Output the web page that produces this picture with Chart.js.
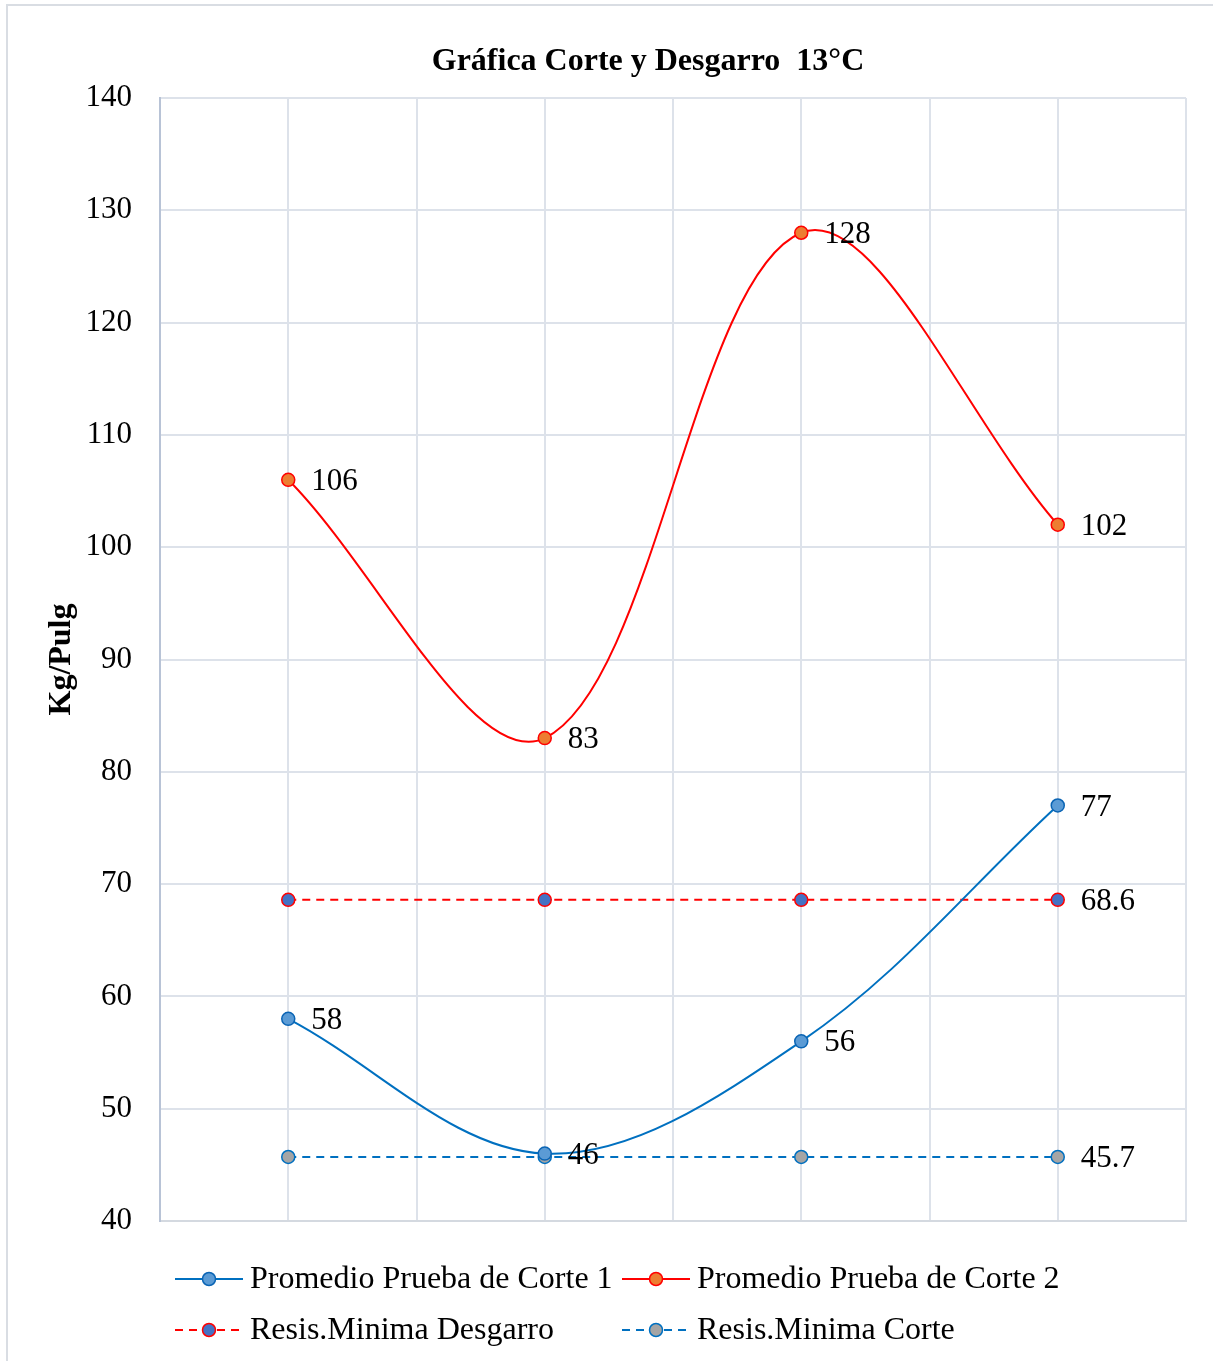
<!DOCTYPE html>
<html>
<head>
<meta charset="utf-8">
<script src="https://cdn.jsdelivr.net/npm/chart.js@4.4.1/dist/chart.umd.min.js"></script>
<style>
  html, body { margin: 0; padding: 0; background: #ffffff; }
  #wrap { width: 1213px; height: 1361px; position: relative; }
</style>
</head>
<body>
<div id="wrap"><canvas id="chart" width="1213" height="1361"></canvas></div>
<script>
// Sample positions along the horizontal axis (no labels are shown on it)
const samplePositions = [1, 2, 3, 4];

// Series values (Kg/Pulg)
const promedioCorte1 = [58, 46, 56, 77];
const promedioCorte2 = [106, 83, 128, 102];
const resisMinimaDesgarro = [68.6, 68.6, 68.6, 68.6];
const resisMinimaCorte = [45.7, 45.7, 45.7, 45.7];

const seriesNames = [
  'Promedio Prueba de Corte 1',
  'Promedio Prueba de Corte 2',
  'Resis.Minima Desgarro',
  'Resis.Minima Corte'
];

const chartTitle = 'Gráfica Corte y Desgarro  13°C';
const yAxisTitle = 'Kg/Pulg';
const yMin = 40, yMax = 140, yStep = 10;

const SERIF = '"Liberation Serif", "Times New Roman", serif';
const GRID = '#dde2ea';

const toPoints = (vals) => vals.map((v, i) => ({ x: samplePositions[i], y: v }));

// Outer frame and white background
const framePlugin = {
  id: 'frame',
  beforeDraw(chart) {
    const ctx = chart.ctx;
    ctx.save();
    ctx.fillStyle = '#ffffff';
    ctx.fillRect(0, 0, chart.width, chart.height);
    ctx.strokeStyle = '#d9dde3';
    ctx.lineWidth = 2;
    ctx.strokeRect(7, 5, chart.width + 20, chart.height + 20);
    ctx.restore();
  }
};

// Chart title
const titlePlugin = {
  id: 'titleText',
  afterDraw(chart) {
    const ctx = chart.ctx;
    ctx.save();
    ctx.font = 'bold 32px ' + SERIF;
    ctx.fillStyle = '#000000';
    ctx.textAlign = 'center';
    ctx.textBaseline = 'middle';
    ctx.fillText(chartTitle, 648, 62);
    ctx.restore();
  }
};

// Value labels to the right of the points
const valueLabelPlugin = {
  id: 'valueLabels',
  afterDatasetsDraw(chart) {
    const ctx = chart.ctx;
    ctx.save();
    ctx.font = '31px ' + SERIF;
    ctx.fillStyle = '#000000';
    ctx.textAlign = 'left';
    ctx.textBaseline = 'middle';
    chart.data.datasets.forEach((ds, di) => {
      const meta = chart.getDatasetMeta(di);
      meta.data.forEach((pt, i) => {
        if (ds.valueLabels === 'last' && i !== meta.data.length - 1) return;
        const v = ds.data[i].y;
        ctx.fillText(String(v), pt.x + 23, pt.y + 2);
      });
    });
    ctx.restore();
  }
};

// Legend with line + marker samples, two columns
const legendPlugin = {
  id: 'lineMarkerLegend',
  afterDraw(chart) {
    const ctx = chart.ctx;
    const cols = [175, 622];
    const rows = [1279, 1330];
    ctx.save();
    chart.data.datasets.forEach((ds, di) => {
      const x = cols[di % 2];
      const y = rows[Math.floor(di / 2)];
      ctx.strokeStyle = ds.borderColor;
      ctx.lineWidth = ds.borderWidth;
      ctx.setLineDash(ds.borderDash || []);
      ctx.beginPath();
      ctx.moveTo(x, y);
      ctx.lineTo(x + 68, y);
      ctx.stroke();
      ctx.setLineDash([]);
      ctx.beginPath();
      ctx.arc(x + 34, y, ds.pointRadius, 0, Math.PI * 2);
      ctx.fillStyle = ds.pointBackgroundColor;
      ctx.fill();
      ctx.lineWidth = ds.pointBorderWidth;
      ctx.strokeStyle = ds.pointBorderColor;
      ctx.stroke();
      ctx.font = '32px ' + SERIF;
      ctx.fillStyle = '#000000';
      ctx.textAlign = 'left';
      ctx.textBaseline = 'middle';
      ctx.fillText(ds.label, x + 75, y + 1);
    });
    ctx.restore();
  }
};

const ctx = document.getElementById('chart').getContext('2d');
new Chart(ctx, {
  type: 'line',
  data: {
    datasets: [
      {
        label: seriesNames[0],
        data: toPoints(promedioCorte1),
        borderColor: '#0070c0',
        borderWidth: 2,
        tension: 0.35,
        pointRadius: 6.5,
        pointBorderWidth: 1.5,
        pointBackgroundColor: '#5b9bd5',
        pointBorderColor: '#0a64b4',
        valueLabels: 'all'
      },
      {
        label: seriesNames[1],
        data: toPoints(promedioCorte2),
        borderColor: '#ff0000',
        borderWidth: 2,
        tension: 0.35,
        pointRadius: 6.5,
        pointBorderWidth: 1.5,
        pointBackgroundColor: '#ed7d31',
        pointBorderColor: '#ff0000',
        valueLabels: 'all'
      },
      {
        label: seriesNames[2],
        data: toPoints(resisMinimaDesgarro),
        borderColor: '#ff0000',
        borderWidth: 2,
        borderDash: [8, 6],
        tension: 0,
        pointRadius: 6.5,
        pointBorderWidth: 1.5,
        pointBackgroundColor: '#4472c4',
        pointBorderColor: '#ff0000',
        valueLabels: 'last'
      },
      {
        label: seriesNames[3],
        data: toPoints(resisMinimaCorte),
        borderColor: '#0070c0',
        borderWidth: 2,
        borderDash: [8, 6],
        tension: 0,
        pointRadius: 6.5,
        pointBorderWidth: 1.5,
        pointBackgroundColor: '#a5a5a5',
        pointBorderColor: '#0070c0',
        valueLabels: 'last'
      }
    ]
  },
  options: {
    responsive: false,
    animation: false,
    devicePixelRatio: 1,
    layout: { padding: { left: 0, right: 27, top: 98, bottom: 140 } },
    plugins: {
      legend: { display: false },
      title: { display: false },
      tooltip: { enabled: false }
    },
    scales: {
      x: {
        type: 'linear',
        min: 0.5,
        max: 4.5,
        ticks: { display: false, stepSize: 0.5 },
        grid: { color: GRID, lineWidth: 2, drawTicks: false },
        border: { color: '#d4d9e0', width: 2 },
        afterFit(scale) { scale.height = 0; }
      },
      y: {
        min: yMin,
        max: yMax,
        ticks: {
          stepSize: yStep,
          padding: 28,
          color: '#000000',
          font: { family: SERIF, size: 31 }
        },
        grid: { color: GRID, lineWidth: 2, drawTicks: false },
        border: { color: '#b8c3d6', width: 2 },
        title: {
          display: true,
          text: yAxisTitle,
          color: '#000000',
          font: { family: SERIF, size: 32, weight: 'bold' },
          padding: { top: 43, bottom: 0 }
        },
        afterFit(scale) { scale.width = 160; }
      }
    }
  },
  plugins: [framePlugin, titlePlugin, valueLabelPlugin, legendPlugin]
});
</script>
</body>
</html>
